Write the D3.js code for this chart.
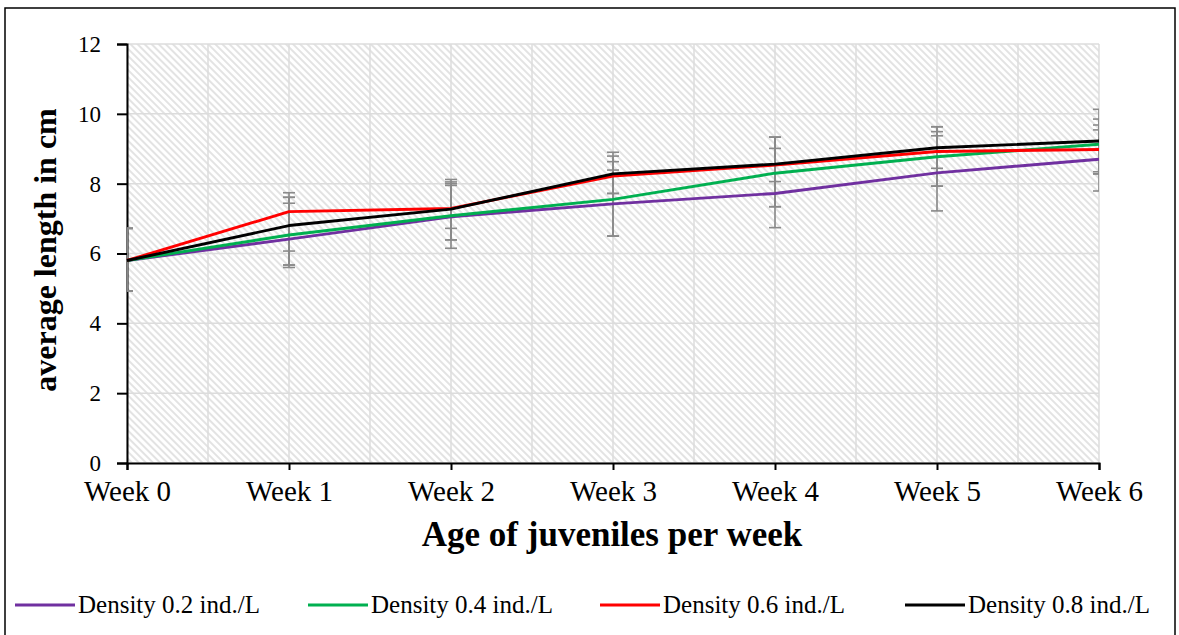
<!DOCTYPE html>
<html>
<head>
<meta charset="utf-8">
<script src="https://cdn.jsdelivr.net/npm/d3@7"></script>
<style>
  html, body { margin: 0; padding: 0; background: #ffffff; }
  svg { display: block; }
  text { font-family: "Liberation Serif", "Times New Roman", serif; fill: #000; }
</style>
</head>
<body>
<svg id="chart" width="1179" height="635"></svg>
<script>
// ---------- DATA ----------
const weeks = ["Week 0", "Week 1", "Week 2", "Week 3", "Week 4", "Week 5", "Week 6"];
const yTicks = [0, 2, 4, 6, 8, 10, 12];
const seriesNames = ["Density 0.2 ind./L", "Density 0.4 ind./L", "Density 0.6 ind./L", "Density 0.8 ind./L"];
const seriesColors = ["#7030A0", "#00B050", "#FF0000", "#000000"];

const density02 = [5.8, 6.41, 7.05, 7.42, 7.72, 8.31, 8.70];
const density04 = [5.8, 6.53, 7.08, 7.55, 8.30, 8.77, 9.13];
const density06 = [5.8, 7.20, 7.29, 8.22, 8.53, 8.92, 8.98];
const density08 = [5.8, 6.80, 7.27, 8.28, 8.56, 9.03, 9.22];

// error bar ends (upper / lower values)
const density02Hi = [6.72, 7.44, 7.95, 8.39, 9.01, 9.37, 9.54];
const density02Lo = [4.93, 5.60, 6.15, 6.50, 6.74, 7.22, 7.79];
const density04Hi = [6.72, 7.61, 8.00, 8.63, 9.33, 9.49, 10.13];
const density04Lo = [4.93, 5.67, 6.39, 6.50, 7.34, 7.93, 8.28];
const density06Hi = [6.72, 7.74, 8.05, 8.79, 9.33, 9.63, 9.68];
const density06Lo = [4.93, 6.07, 6.72, 7.72, 8.06, 8.44, 8.34];
const density08Hi = [6.72, 7.61, 8.12, 8.90, 9.33, 9.63, 9.85];
const density08Lo = [4.93, 5.67, 6.39, 7.72, 7.34, 7.93, 8.28];

const seriesValues = [density02, density04, density06, density08];
const seriesHi = [density02Hi, density04Hi, density06Hi, density08Hi];
const seriesLo = [density02Lo, density04Lo, density06Lo, density08Lo];

const xTitle = "Age of juveniles per week";
const yTitle = "average length in cm";

// ---------- LAYOUT ----------
const FONT = "'Liberation Serif', 'Times New Roman', serif";
const svg = d3.select("#chart");
const plot = { left: 127, right: 1099, top: 44, bottom: 463 };

const x = d3.scaleLinear().domain([0, weeks.length - 1]).range([plot.left, plot.right]);
const y = d3.scaleLinear().domain([0, 12]).range([plot.bottom, plot.top]);

// outer frame
svg.append("rect")
  .attr("x", 5).attr("y", 8).attr("width", 1170).attr("height", 640)
  .attr("fill", "#fff").attr("stroke", "#000").attr("stroke-width", 1.5);

// hatch pattern
const defs = svg.append("defs");
const pat = defs.append("pattern")
  .attr("id", "hatch").attr("patternUnits", "userSpaceOnUse")
  .attr("width", 5).attr("height", 5)
  .attr("patternTransform", "rotate(-45)");
pat.append("rect").attr("width", 5).attr("height", 5).attr("fill", "#ffffff");
pat.append("line").attr("x1", 1).attr("y1", 0).attr("x2", 1).attr("y2", 5)
  .attr("stroke", "#d4d4d4").attr("stroke-width", 1.3);

defs.append("clipPath").attr("id", "plotClip")
  .append("rect")
  .attr("x", plot.left).attr("y", plot.top)
  .attr("width", plot.right - plot.left).attr("height", plot.bottom - plot.top);

svg.append("rect")
  .attr("x", plot.left).attr("y", plot.top)
  .attr("width", plot.right - plot.left).attr("height", plot.bottom - plot.top)
  .attr("fill", "url(#hatch)");

// gridlines
const grid = svg.append("g");
const halfSteps = d3.range(0, weeks.length - 0.5 + 0.01, 0.5);
grid.selectAll("line.v").data(halfSteps).join("line")
  .attr("x1", d => x(d)).attr("x2", d => x(d))
  .attr("y1", plot.top).attr("y2", plot.bottom)
  .attr("stroke", "#dcdcdc").attr("stroke-width", 1.5);
grid.selectAll("line.h").data(yTicks).join("line")
  .attr("x1", plot.left).attr("x2", plot.right)
  .attr("y1", d => y(d)).attr("y2", d => y(d))
  .attr("stroke", "#dcdcdc").attr("stroke-width", 1.5);

// axes
const yAxis = svg.append("g")
  .attr("transform", `translate(${plot.left},0)`)
  .call(d3.axisLeft(y).tickValues(yTicks).tickSize(10).tickPadding(16).tickFormat(d3.format("d")));
yAxis.attr("font-family", FONT).attr("font-size", 23);
yAxis.select(".domain").attr("stroke", "#000").attr("stroke-width", 2);
yAxis.selectAll(".tick line").attr("stroke", "#000").attr("stroke-width", 2);
yAxis.selectAll(".tick text").style("font-family", FONT).style("font-size", "23px");

const xAxis = svg.append("g")
  .attr("transform", `translate(0,${plot.bottom})`)
  .call(d3.axisBottom(x).tickValues(d3.range(weeks.length)).tickSize(7).tickPadding(10)
    .tickFormat(i => weeks[i]));
xAxis.attr("font-family", FONT).attr("font-size", 29);
xAxis.select(".domain").attr("stroke", "#000").attr("stroke-width", 2);
xAxis.selectAll(".tick line").attr("stroke", "#000").attr("stroke-width", 2);
xAxis.selectAll(".tick text").style("font-family", FONT).style("font-size", "29px");

// error bars
const eb = svg.append("g").attr("clip-path", "url(#plotClip)");
seriesValues.forEach((vals, s) => {
  const g = eb.append("g");
  const rows = vals.map((v, i) => ({ i, hi: seriesHi[s][i], lo: seriesLo[s][i] }));
  g.selectAll("line.bar").data(rows).join("line")
    .attr("x1", d => x(d.i)).attr("x2", d => x(d.i))
    .attr("y1", d => y(d.hi)).attr("y2", d => y(d.lo))
    .attr("stroke", "#8a8a8a").attr("stroke-width", 1.6);
  ["hi", "lo"].forEach(k => {
    g.selectAll("line.cap" + k).data(rows).join("line")
      .attr("x1", d => x(d.i) - 6).attr("x2", d => x(d.i) + 6)
      .attr("y1", d => y(d[k])).attr("y2", d => y(d[k]))
      .attr("stroke", "#8a8a8a").attr("stroke-width", 1.6);
  });
});

// lines
const line = d3.line().x((d, i) => x(i)).y(d => y(d));
seriesValues.forEach((vals, s) => {
  svg.append("path").datum(vals)
    .attr("d", line)
    .attr("fill", "none")
    .attr("stroke", seriesColors[s])
    .attr("stroke-width", 2.9)
    .attr("stroke-linejoin", "round");
});

// axis titles
svg.append("text")
  .attr("x", 612).attr("y", 546)
  .attr("text-anchor", "middle")
  .style("font-family", FONT)
  .style("font-size", "35px").style("font-weight", "bold")
  .text(xTitle);

svg.append("text")
  .attr("transform", `translate(56,250) rotate(-90)`)
  .attr("text-anchor", "middle")
  .style("font-family", FONT)
  .style("font-size", "32px").style("font-weight", "bold")
  .text(yTitle);

// legend
const legendStarts = [15, 308, 600, 905];
const lg = svg.append("g");
seriesNames.forEach((name, s) => {
  const x0 = legendStarts[s];
  lg.append("line")
    .attr("x1", x0).attr("x2", x0 + 60)
    .attr("y1", 605).attr("y2", 605)
    .attr("stroke", seriesColors[s]).attr("stroke-width", 2.8);
  lg.append("text")
    .attr("x", x0 + 63).attr("y", 613)
    .style("font-family", FONT)
    .style("font-size", "25px")
    .text(name);
});
</script>
</body>
</html>
